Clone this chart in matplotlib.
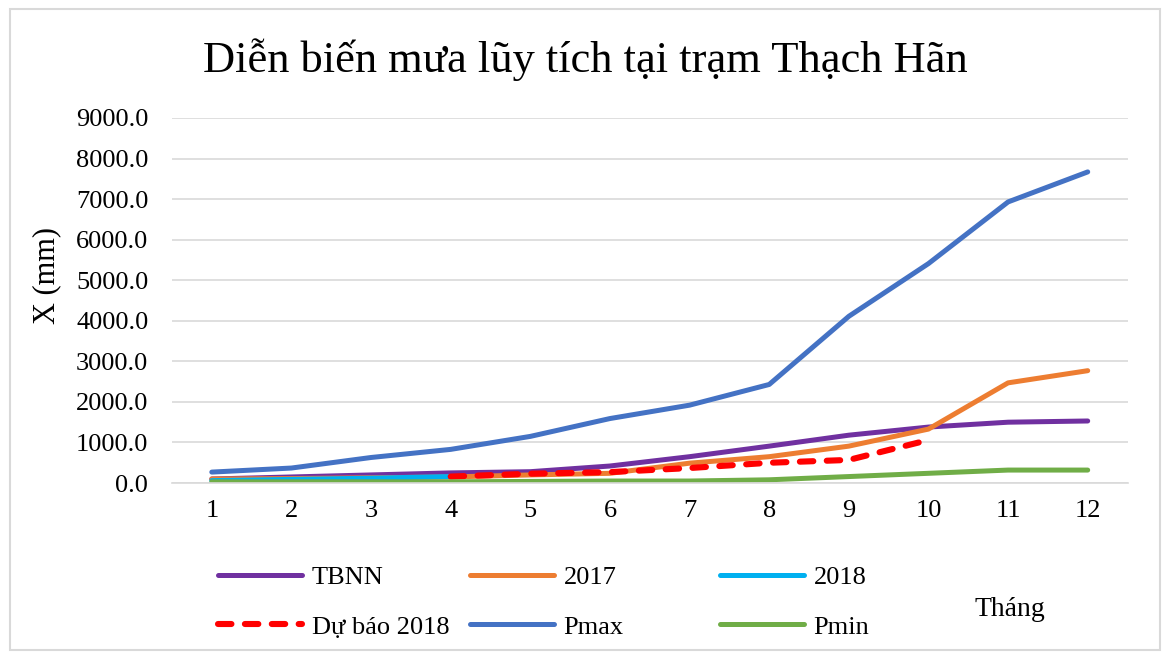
import numpy as np
import matplotlib.pyplot as plt
from matplotlib.patches import Rectangle

plt.rcParams['font.family'] = ['Liberation Serif', 'DejaVu Serif']

months = np.arange(1, 13)
tbnn = [100, 150, 200, 250, 280, 420, 650, 910, 1180, 1380, 1500, 1530]
y2017 = [100, 110, 130, 150, 200, 240, 490, 650, 910, 1330, 2470, 2770]
y2018 = [60, 90, 120, 160]
du_bao = [160, 230, 270, 370, 500, 570, 1060]
pmax = [270, 370, 630, 830, 1150, 1590, 1920, 2430, 4110, 5410, 6930, 7670]
pmin = [30, 30, 30, 30, 40, 50, 50, 80, 160, 240, 320, 320]

fig = plt.figure(figsize=(11.66, 6.59), dpi=100)
ax = fig.add_axes([0.1475, 0.267, 0.8195, 0.554])

lw = 3.6
h_tbnn, = ax.plot(months, tbnn, color='#7030A0', lw=lw, solid_capstyle='round', label='TBNN')
h_2017, = ax.plot(months, y2017, color='#ED7D31', lw=lw, solid_capstyle='round', label='2017')
h_2018, = ax.plot(months[:4], y2018, color='#00B0F0', lw=lw, solid_capstyle='round', label='2018')
h_db, = ax.plot(months[3:10], du_bao, color='#FF0000', lw=4.4, ls=(0, (2.2, 2.2)),
                dash_capstyle='round', label='Dự báo 2018')
h_pmax, = ax.plot(months, pmax, color='#4472C4', lw=lw, solid_capstyle='round', label='Pmax')
h_pmin, = ax.plot(months, pmin, color='#70AD47', lw=lw, solid_capstyle='round', label='Pmin')

ax.set_xlim(0.5, 12.5)
ax.set_ylim(0, 9000)
ax.set_xticks(months)
ax.set_yticks(np.arange(0, 9001, 1000))
ax.set_yticklabels([f"{v:.1f}" for v in np.arange(0, 9001, 1000)])
ax.tick_params(axis='both', length=0, labelsize=19)
ax.tick_params(axis='x', pad=12)
ax.tick_params(axis='y', pad=17)
ax.grid(axis='y', color='#d9d9d9', lw=1.2)
ax.set_axisbelow(True)
for s in ['top', 'right', 'left']:
    ax.spines[s].set_visible(False)
ax.spines['bottom'].set_color('#d9d9d9')
ax.spines['bottom'].set_linewidth(1.2)

fig.text(47 / 1166, 1 - 275 / 659, 'X (mm)', fontsize=22, rotation=90,
         ha='center', va='center')
fig.text(585 / 1166, 1 - 60 / 659, 'Diễn biến mưa lũy tích tại trạm Thạch Hãn',
         fontsize=32, ha='center', va='center')

# Excel-style legend: three evenly spaced columns, row-major order
columns = [(h_tbnn, h_db), (h_2017, h_pmax), (h_2018, h_pmin)]
col_x = [218, 470, 720]
for hs, x in zip(columns, col_x):
    fig.legend(list(hs), [h.get_label() for h in hs], loc='center left',
               bbox_to_anchor=(x / 1166, 1 - 602 / 659), frameon=False,
               fontsize=19, handlelength=3.2, handletextpad=0.35,
               labelspacing=1.0, borderpad=0, borderaxespad=0)

fig.text(1010 / 1166, 1 - 610 / 659, 'Tháng', fontsize=20, ha='center', va='center')

fig.patches.append(Rectangle((10 / 1166, 9 / 659), 1150 / 1166, 641 / 659,
                             transform=fig.transFigure, fill=False,
                             edgecolor='#d9d9d9', lw=1.5))

fig.savefig('out.png', dpi=100)
